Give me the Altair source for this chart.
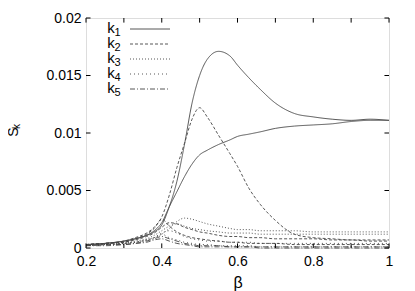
import altair as alt
import pandas as pd

beta = [0.2, 0.25, 0.3, 0.33, 0.36, 0.38, 0.4, 0.42, 0.44, 0.46, 0.48, 0.5, 0.52,
        0.55, 0.58, 0.6, 0.63, 0.66, 0.7, 0.75, 0.8, 0.85, 0.9, 0.95, 1.0]

k1_a = [0.0003, 0.0004, 0.0006, 0.0008, 0.0011, 0.0014, 0.0020, 0.0036, 0.0058, 0.0090, 0.0126, 0.0150, 0.0164,
        0.0171, 0.0167, 0.0159, 0.0148, 0.0138, 0.0126, 0.0117, 0.0114, 0.0112, 0.0111, 0.0112, 0.0111]
k1_b = [0.0003, 0.0004, 0.0006, 0.0008, 0.0011, 0.0015, 0.0022, 0.0036, 0.0049, 0.0062, 0.0073, 0.0081, 0.0085,
        0.0090, 0.0094, 0.0097, 0.0099, 0.0101, 0.0104, 0.0106, 0.0107, 0.0108, 0.0110, 0.0111, 0.0111]
k2_a = [0.0003, 0.0004, 0.0006, 0.0009, 0.0013, 0.0018, 0.0027, 0.0046, 0.0070, 0.0091, 0.0112, 0.0122, 0.0114,
        0.0098, 0.0082, 0.0071, 0.0052, 0.0038, 0.0024, 0.0012, 0.0009, 0.0008, 0.0007, 0.0007, 0.0007]
k2_b = [0.0003, 0.0004, 0.0005, 0.0007, 0.0010, 0.0013, 0.0018, 0.0022, 0.0021, 0.0018, 0.0016, 0.0014, 0.0013,
        0.0011, 0.0010, 0.0010, 0.0009, 0.0009, 0.0008, 0.0008, 0.0008, 0.0007, 0.0007, 0.0006, 0.0006]
k2_c = [0.0003, 0.0004, 0.0005, 0.0008, 0.0012, 0.0017, 0.0025, 0.0019, 0.0014, 0.0011, 0.0009, 0.0008, 0.0007,
        0.0006, 0.0005, 0.0005, 0.0004, 0.0004, 0.0004, 0.0003, 0.0003, 0.0003, 0.0003, 0.0003, 0.0003]
k3_a = [0.0002, 0.0003, 0.0004, 0.0005, 0.0007, 0.0009, 0.0012, 0.0017, 0.0023, 0.0026, 0.0025, 0.0023, 0.0021,
        0.0019, 0.0017, 0.0016, 0.0016, 0.0015, 0.0015, 0.0015, 0.0014, 0.0014, 0.0014, 0.0014, 0.0014]
k3_b = [0.0002, 0.0003, 0.0004, 0.0006, 0.0008, 0.0011, 0.0015, 0.0019, 0.0021, 0.0019, 0.0017, 0.0016, 0.0015,
        0.0014, 0.0013, 0.0013, 0.0013, 0.0012, 0.0012, 0.0012, 0.0012, 0.0012, 0.0012, 0.0012, 0.0012]
k4_a = [0.0002, 0.0003, 0.0004, 0.0005, 0.0007, 0.0009, 0.0013, 0.0015, 0.0013, 0.0010, 0.0008, 0.0007, 0.0006,
        0.0006, 0.0005, 0.0005, 0.0005, 0.0004, 0.0004, 0.0004, 0.0004, 0.0004, 0.0004, 0.0004, 0.0004]
k4_b = [0.0002, 0.0003, 0.0004, 0.0005, 0.0007, 0.0009, 0.0012, 0.0009, 0.0007, 0.0005, 0.0004, 0.0003, 0.0003,
        0.0002, 0.0002, 0.0002, 0.0002, 0.0001, 0.0001, 0.0001, 0.0001, 0.0001, 0.0001, 0.0001, 0.0001]
k5_a = [0.0002, 0.0003, 0.0003, 0.0004, 0.0006, 0.0008, 0.0010, 0.0008, 0.0006, 0.0004, 0.0003, 0.0002, 0.0002,
        0.0002, 0.0001, 0.0001, 0.0001, 0.0001, 0.0001, 0.0001, 0.0001, 0.0001, 0.0001, 0.0001, 0.0001]
k5_b = [0.0002, 0.0002, 0.0003, 0.0004, 0.0005, 0.0007, 0.0008, 0.0006, 0.0004, 0.0003, 0.0002, 0.0001, 0.0001,
        0.0001, 0.0001, 0.0001, 0.0001, 0.0000, 0.0000, 0.0000, 0.0000, 0.0000, 0.0000, 0.0000, 0.0000]

k_names = ["k1", "k2", "k3", "k4", "k5"]
k_subs = ["1", "2", "3", "4", "5"]
series = {
    ("k1", "a"): k1_a, ("k1", "b"): k1_b,
    ("k2", "a"): k2_a, ("k2", "b"): k2_b, ("k2", "c"): k2_c,
    ("k3", "a"): k3_a, ("k3", "b"): k3_b,
    ("k4", "a"): k4_a, ("k4", "b"): k4_b,
    ("k5", "a"): k5_a, ("k5", "b"): k5_b,
}
x_ticks = [0.2, 0.3, 0.4, 0.5, 0.6, 0.7, 0.8, 0.9, 1.0]
y_ticks = [0, 0.005, 0.01, 0.015, 0.02]

rows = []
for (k, s), vals in series.items():
    for b, v in zip(beta, vals):
        rows.append({"k": k, "curve": k + s, "beta": b, "S": v})
df = pd.DataFrame(rows)

dashes = [[1, 0], [3, 2], [1, 2], [1, 3], [5, 2, 1, 2]]
FONT = "Liberation Sans"
INK = "#444444"

xs = alt.Scale(domain=[0.2, 1.0], nice=False, zero=False)
ys = alt.Scale(domain=[0, 0.02], nice=False)

lines = alt.Chart(df).mark_line(strokeWidth=0.9, color=INK, interpolate="monotone").encode(
    x=alt.X("beta:Q", scale=xs, axis=alt.Axis(values=x_ticks, format="~g", title="β",
                                                titleFontSize=16, titleFontWeight="normal",
                                                titlePadding=6, labelPadding=6, labelFontSize=14,
                                                labelFlush=False, labelOverlap=False,
                                                ticks=False, domain=False, grid=False,
                                                labelFont=FONT, titleFont=FONT, labelColor="black",
                                                titleColor="black")),
    y=alt.Y("S:Q", scale=ys, axis=alt.Axis(values=y_ticks, format="~g", title=None,
                                             labelPadding=5, labelFontSize=14, ticks=False,
                                             labelFlush=False, labelOverlap=False,
                                             domain=False, grid=False, labelFont=FONT,
                                             labelColor="black")),
    strokeDash=alt.StrokeDash("k:N", scale=alt.Scale(domain=k_names, range=dashes), legend=None),
    detail="curve:N",
)

# inward ticks on all four sides
tx = pd.DataFrame({"v": x_ticks})
ty = pd.DataFrame({"v": y_ticks})
tick_len_y = 0.0004
tick_len_x = 0.012
bottom = alt.Chart(tx).mark_rule(color="black", strokeWidth=1).encode(
    x=alt.X("v:Q", scale=xs), y=alt.datum(0), y2=alt.datum(tick_len_y))
top = alt.Chart(tx).mark_rule(color="black", strokeWidth=1).encode(
    x=alt.X("v:Q", scale=xs), y=alt.datum(0.02), y2=alt.datum(0.02 - tick_len_y))
left = alt.Chart(ty).mark_rule(color="black", strokeWidth=1).encode(
    y=alt.Y("v:Q", scale=ys), x=alt.datum(0.2), x2=alt.datum(0.2 + tick_len_x))
right = alt.Chart(ty).mark_rule(color="black", strokeWidth=1).encode(
    y=alt.Y("v:Q", scale=ys), x=alt.datum(1.0), x2=alt.datum(1.0 - tick_len_x))

# y-axis title S_k (rotated)
s_title = alt.Chart(pd.DataFrame({"t": ["S"]})).mark_text(
    angle=270, font=FONT, fontSize=14, color="black", align="center", baseline="middle").encode(
    text="t:N", x=alt.value(-72.5), y=alt.value(114))
k_title = alt.Chart(pd.DataFrame({"t": ["k"]})).mark_text(
    angle=270, font=FONT, fontSize=10, color="black", align="center", baseline="middle").encode(
    text="t:N", x=alt.value(-69), y=alt.value(108.5))

# key (gnuplot style, labels left of samples)
key_layers = []
for i, (k, sub) in enumerate(zip(k_names, k_subs)):
    yk = 10 + 15 * i
    key_layers.append(alt.Chart(pd.DataFrame({"t": ["k"]})).mark_text(
        font=FONT, fontSize=15, color="black", align="center", baseline="middle").encode(
        text="t:N", x=alt.value(25), y=alt.value(yk)))
    key_layers.append(alt.Chart(pd.DataFrame({"t": [sub]})).mark_text(
        font=FONT, fontSize=11, color="black", align="center", baseline="middle").encode(
        text="t:N", x=alt.value(31.5), y=alt.value(yk + 5)))
    key_layers.append(alt.Chart(pd.DataFrame({"k": [k]})).mark_rule(
        color=INK, strokeWidth=0.9, strokeDash=dashes[i]).encode(
        x=alt.value(44), x2=alt.value(84), y=alt.value(yk + 1)))

chart = alt.layer(lines, bottom, top, left, right, s_title, k_title, *key_layers).properties(
    width=303, height=230,
    autosize=alt.AutoSizeParams(type="none"),
    padding={"left": 78, "top": 10, "right": 18, "bottom": 43},
).configure_view(stroke="black", strokeWidth=1).configure(background="white")

chart.save("out.html", embed_options={"renderer": "svg", "actions": False})
